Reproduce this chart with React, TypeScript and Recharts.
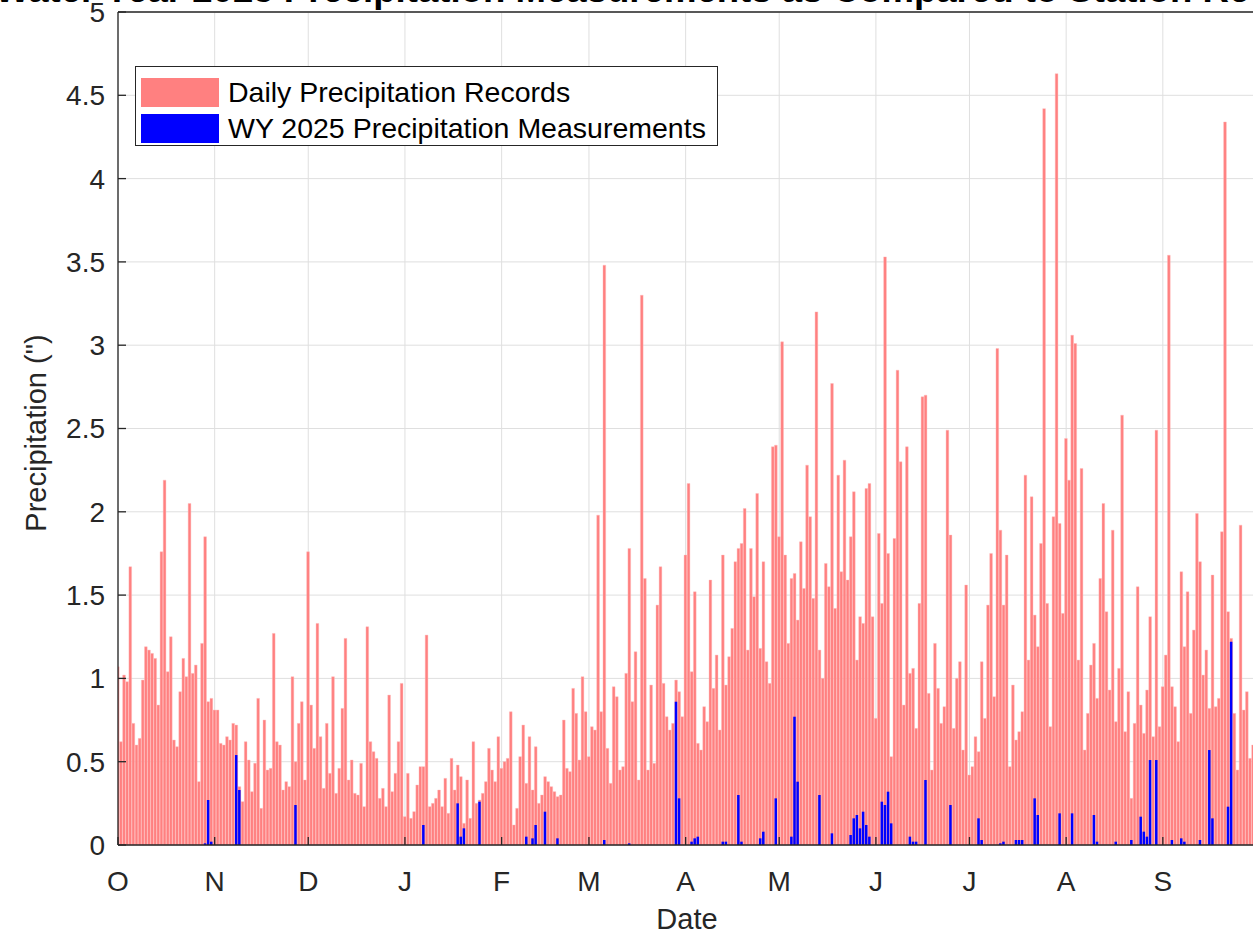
import { BarChart, Bar, XAxis, YAxis, CartesianGrid, Legend } from "recharts";

const FONT = "'Liberation Sans', Arial, Helvetica, sans-serif";
const INK = "#262626";

// month starts (day index from Oct 1) and their labels
const monthStarts = [0, 31, 61, 92, 123, 151, 182, 212, 243, 273, 304, 335];
const monthLabels = ["O", "N", "D", "J", "F", "M", "A", "M", "J", "J", "A", "S"];
const yTicks = [0, 0.5, 1, 1.5, 2, 2.5, 3, 3.5, 4, 4.5, 5];

// daily precipitation records (inches)
const recOct = [1.07, 0.62, 1.02, 0.98, 1.67, 0.73, 0.6, 0.64, 0.99, 1.19, 1.17, 1.15, 1.12, 0.84, 1.76, 2.19, 1.04, 1.25, 0.63, 0.59, 0.92, 1.12, 1.01, 2.05, 1.03, 1.08, 0.38, 1.21, 1.85, 0.86, 0.88];
const recNov = [0.81, 0.81, 0.61, 0.6, 0.65, 0.63, 0.73, 0.72, 0.35, 0.26, 0.62, 0.51, 0.32, 0.49, 0.88, 0.22, 0.75, 0.45, 0.46, 1.27, 0.62, 0.6, 0.33, 0.38, 0.35, 1.01, 0.5, 0.73, 0.86, 0.39];
const recDec = [1.76, 0.84, 0.58, 1.33, 0.65, 0.34, 0.73, 0.43, 1.01, 0.31, 0.46, 0.82, 1.24, 0.39, 0.51, 0.31, 0.3, 0.49, 0.23, 1.31, 0.62, 0.56, 0.52, 0.28, 0.34, 0.23, 0.9, 0.32, 0.43, 0.62, 0.97];
const recJan = [0.17, 0.43, 0.16, 0.2, 0.36, 0.47, 0.47, 1.26, 0.23, 0.25, 0.28, 0.33, 0.23, 0.4, 0.19, 0.52, 0.33, 0.48, 0.41, 0.13, 0.39, 0.16, 0.62, 0.25, 0.27, 0.31, 0.38, 0.58, 0.45, 0.38, 0.65];
const recFeb = [0.46, 0.5, 0.52, 0.8, 0.12, 0.22, 0.53, 0.72, 0.37, 0.65, 0.33, 0.59, 0.25, 0.3, 0.41, 0.38, 0.35, 0.32, 0.29, 0.3, 0.75, 0.46, 0.44, 0.94, 0.79, 0.51, 1.01, 0.8];
const recMar = [0.53, 0.71, 0.69, 1.98, 0.8, 3.48, 0.58, 0.37, 0.95, 0.89, 0.45, 0.47, 1.03, 1.78, 0.86, 1.16, 0.39, 3.3, 1.6, 0.45, 0.96, 0.49, 1.44, 1.67, 0.97, 0.77, 0.69, 0.73, 0.99, 0.92, 0.77];
const recApr = [1.74, 2.17, 1.04, 1.52, 0.61, 0.57, 0.83, 0.74, 1.59, 0.94, 1.14, 0.69, 1.74, 0.96, 1.13, 1.3, 1.7, 1.78, 1.81, 2.02, 1.17, 1.78, 1.49, 2.11, 1.18, 1.7, 1.1, 0.97, 2.39, 2.4];
const recMay = [1.85, 3.02, 1.74, 1.21, 1.6, 1.63, 1.35, 1.82, 1.54, 2.28, 1.97, 1.48, 3.2, 1.17, 1.0, 1.69, 1.55, 2.77, 1.42, 2.22, 1.64, 2.31, 1.59, 1.85, 2.12, 1.11, 1.37, 1.33, 2.14, 2.17, 1.37];
const recJun = [0.76, 1.87, 1.45, 3.53, 1.75, 0.53, 1.84, 2.85, 2.3, 0.84, 2.39, 1.03, 1.06, 0.7, 1.45, 2.69, 2.7, 0.91, 0.45, 1.21, 0.94, 0.73, 0.83, 2.49, 1.86, 0.7, 1.0, 1.1, 0.57, 1.56];
const recJul = [0.42, 0.47, 0.65, 0.56, 1.1, 0.76, 1.44, 1.75, 0.89, 2.98, 1.89, 1.44, 1.74, 0.47, 0.96, 0.63, 0.68, 0.8, 2.22, 1.11, 2.09, 1.38, 1.19, 1.81, 4.42, 1.45, 0.71, 1.97, 4.63, 1.93, 1.39];
const recAug = [2.44, 2.19, 3.06, 3.01, 1.11, 2.26, 0.57, 0.79, 1.08, 1.21, 0.88, 1.6, 2.05, 1.4, 0.93, 1.89, 0.74, 1.06, 2.58, 0.68, 0.92, 0.28, 0.73, 1.55, 0.84, 0.67, 0.93, 1.37, 0.65, 2.49, 0.71];
const recSep = [0.95, 1.14, 3.54, 0.95, 0.83, 0.62, 1.64, 1.19, 1.52, 0.79, 1.29, 1.99, 1.7, 1.02, 1.17, 0.82, 1.62, 0.83, 0.88, 1.88, 4.34, 1.4, 1.24, 0.79, 0.45, 1.92, 0.81, 0.92, 0.52, 0.6];

// WY 2025 measurements (inches)
const wyOct = [0, 0, 0, 0, 0, 0, 0, 0, 0, 0, 0, 0, 0, 0, 0, 0, 0, 0, 0, 0, 0, 0, 0, 0, 0, 0, 0, 0, 0.01, 0.27, 0.02];
const wyNov = [0, 0, 0, 0, 0, 0, 0, 0.54, 0.33, 0, 0, 0, 0, 0, 0, 0, 0, 0, 0, 0, 0, 0, 0, 0, 0, 0, 0.24, 0, 0, 0];
const wyDec = [0, 0, 0, 0, 0, 0, 0, 0, 0, 0, 0, 0, 0, 0, 0, 0, 0, 0, 0, 0, 0, 0, 0, 0, 0, 0, 0, 0, 0, 0, 0];
const wyJan = [0, 0, 0, 0, 0, 0, 0.12, 0, 0, 0, 0, 0, 0, 0, 0, 0, 0, 0.25, 0.05, 0.1, 0, 0, 0, 0, 0.26, 0, 0, 0, 0, 0, 0];
const wyFeb = [0, 0, 0, 0, 0, 0, 0, 0, 0.05, 0, 0.04, 0.12, 0, 0, 0.2, 0, 0, 0, 0.04, 0, 0, 0, 0, 0, 0, 0, 0, 0];
const wyMar = [0, 0, 0, 0, 0, 0.03, 0, 0, 0, 0, 0, 0, 0, 0.01, 0, 0, 0, 0, 0, 0, 0, 0, 0, 0, 0, 0, 0, 0, 0.86, 0.28, 0];
const wyApr = [0, 0, 0.02, 0.04, 0.05, 0, 0, 0, 0, 0, 0, 0, 0.02, 0.02, 0, 0, 0, 0.3, 0.02, 0, 0, 0, 0, 0, 0.04, 0.08, 0, 0, 0, 0.28];
const wyMay = [0, 0, 0, 0, 0.05, 0.77, 0.38, 0, 0, 0, 0, 0, 0, 0.3, 0, 0, 0, 0.07, 0, 0, 0, 0, 0, 0.06, 0.16, 0.18, 0.1, 0.2, 0.12, 0.05, 0];
const wyJun = [0, 0, 0.26, 0.24, 0.32, 0.13, 0, 0, 0, 0, 0, 0.05, 0.02, 0.02, 0, 0, 0.39, 0, 0, 0, 0, 0, 0, 0, 0.24, 0, 0, 0, 0, 0];
const wyJul = [0, 0, 0, 0.16, 0.03, 0, 0, 0, 0, 0, 0.01, 0.02, 0, 0, 0, 0.03, 0.03, 0.03, 0, 0, 0, 0.28, 0.18, 0, 0, 0, 0, 0, 0, 0.19, 0];
const wyAug = [0, 0, 0.19, 0, 0, 0, 0, 0, 0, 0.18, 0.02, 0, 0, 0, 0, 0, 0.02, 0, 0, 0, 0, 0.03, 0, 0, 0.17, 0.08, 0.05, 0.51, 0, 0.51, 0];
const wySep = [0, 0, 0, 0.03, 0, 0, 0.04, 0.02, 0, 0, 0, 0, 0.03, 0, 0, 0.57, 0.16, 0, 0, 0, 0, 0.23, 1.22, 0, 0, 0, 0, 0, 0, 0];

const records = [...recOct, ...recNov, ...recDec, ...recJan, ...recFeb, ...recMar, ...recApr, ...recMay, ...recJun, ...recJul, ...recAug, ...recSep];
const measured = [...wyOct, ...wyNov, ...wyDec, ...wyJan, ...wyFeb, ...wyMar, ...wyApr, ...wyMay, ...wyJun, ...wyJul, ...wyAug, ...wySep];

const data = records.map((r, i) => ({ day: i, record: r, measured: measured[i] }));

const LegendBox = () => (
  <div
    style={{
      border: `1.3px solid ${INK}`,
      background: "#fff",
      width: 583,
      height: 80,
      boxSizing: "border-box",
      fontFamily: FONT,
      fontSize: 28.5,
      color: "#000",
      padding: "7px 0 0 5px",
    }}
  >
    {[
      { label: "Daily Precipitation Records", color: "#ff8080" },
      { label: "WY 2025 Precipitation Measurements", color: "#0000ff" },
    ].map((e) => (
      <div key={e.label} style={{ display: "flex", alignItems: "center", height: 36 }}>
        <div style={{ width: 78, height: 29, background: e.color, marginRight: 9 }} />
        <span style={{ lineHeight: "29px" }}>{e.label}</span>
      </div>
    ))}
  </div>
);

const App = () => {
  const tickStyle = { fill: INK, fontSize: 28, fontFamily: FONT };
  return (
    <div style={{ position: "absolute", left: 0, top: 0, width: 1253, height: 934, overflow: "hidden", background: "#fff" }}>
      <BarChart
        width={1261}
        height={934}
        data={data}
        margin={{ top: 8, right: 0, bottom: 39, left: 0 }}
        barCategoryGap={0}
      >
        <CartesianGrid stroke="#dfdfdf" strokeWidth={1} xAxisId="x" yAxisId="y" />
        <XAxis
          xAxisId="x"
          dataKey="day"
          type="number"
          domain={[0, 365]}
          ticks={monthStarts}
          tickFormatter={(v: number) => monthLabels[monthStarts.indexOf(v)]}
          height={50}
          tickSize={-8}
          tickMargin={34}
          tick={tickStyle}
          stroke={INK}
          strokeWidth={1.3}
          interval={0}
          allowDataOverflow
        />
        <XAxis
          xAxisId="top"
          dataKey="day"
          type="number"
          orientation="top"
          domain={[0, 365]}
          ticks={monthStarts}
          height={4}
          tickSize={-8}
          tick={false}
          stroke={INK}
          strokeWidth={1.3}
          interval={0}
          allowDataOverflow
        />
        <YAxis
          yAxisId="y"
          domain={[0, 5]}
          ticks={yTicks}
          width={118}
          tickSize={-8}
          tickMargin={21}
          tick={tickStyle}
          tickFormatter={(v: number) => String(v)}
          stroke={INK}
          strokeWidth={1.3}
          interval={0}
        />
        <YAxis
          yAxisId="r"
          orientation="right"
          domain={[0, 5]}
          ticks={yTicks}
          width={4.6}
          tickSize={-8}
          tick={false}
          stroke={INK}
          strokeWidth={1.3}
          interval={0}
        />
        <Legend
          layout="vertical"
          align="center"
          verticalAlign="middle"
          wrapperStyle={{ left: 135, top: 66, width: 583, height: 80 }}
          content={() => <LegendBox />}
        />
        <Bar
          xAxisId="x"
          yAxisId="y"
          dataKey="record"
          name="Daily Precipitation Records"
          fill="#ff8080"
          stroke="#ffb8b8"
          strokeWidth={0.4}
          barSize={2.7}
          isAnimationActive={false}
        />
        <Bar
          xAxisId="top"
          yAxisId="y"
          dataKey="measured"
          name="WY 2025 Precipitation Measurements"
          fill="#0000ff"
          barSize={2.5}
          isAnimationActive={false}
        />
      </BarChart>
      <svg width={1253} height={934} style={{ position: "absolute", left: 0, top: 0, pointerEvents: "none" }}>
        <text x={-5} y={2} fontFamily={FONT} fontWeight="bold" fontSize={36.6} fill="#000">
          Water Year 2025 Precipitation Measurements as Compared to Station Records
        </text>
        <text x={687} y={929} textAnchor="middle" fontFamily={FONT} fontSize={29} fill={INK}>
          Date
        </text>
        <text
          x={46}
          y={433}
          textAnchor="middle"
          transform="rotate(-90 46 433)"
          fontFamily={FONT}
          fontSize={29}
          fill={INK}
        >
          Precipitation (")
        </text>
      </svg>
    </div>
  );
};

export default App;
